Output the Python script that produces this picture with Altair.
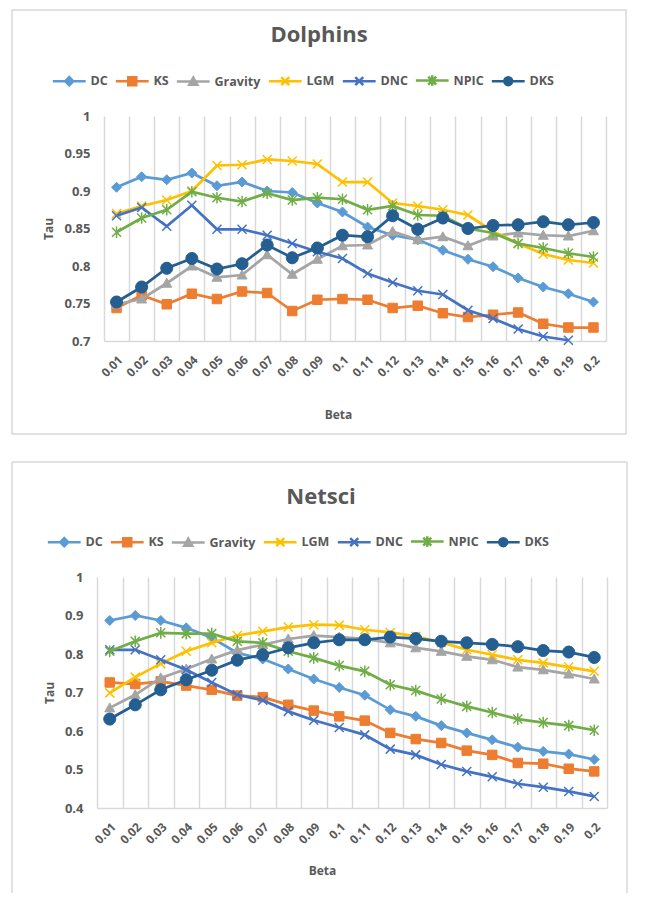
import altair as alt
import pandas as pd

BETA = ["0.01", "0.02", "0.03", "0.04", "0.05", "0.06", "0.07", "0.08", "0.09", "0.1",
        "0.11", "0.12", "0.13", "0.14", "0.15", "0.16", "0.17", "0.18", "0.19", "0.2"]
SERIES = ["DC", "KS", "Gravity", "LGM", "DNC", "NPIC", "DKS"]
COLORS = ["#5B9BD5", "#ED7D31", "#A5A5A5", "#FFC000", "#4472C4", "#70AD47", "#255E91"]

# Dolphins
dol_DC = [0.905, 0.919, 0.915, 0.924, 0.907, 0.912, 0.900, 0.898, 0.884, 0.872,
          0.852, 0.841, 0.835, 0.821, 0.809, 0.799, 0.784, 0.772, 0.763, 0.752]
dol_KS = [0.744, 0.761, 0.749, 0.763, 0.756, 0.766, 0.764, 0.740, 0.755, 0.756,
          0.755, 0.744, 0.747, 0.737, 0.732, 0.735, 0.738, 0.723, 0.718, 0.718]
dol_Gravity = [0.749, 0.756, 0.777, 0.800, 0.785, 0.788, 0.815, 0.789, 0.809, 0.827,
               0.828, 0.846, 0.835, 0.839, 0.827, 0.840, 0.844, 0.841, 0.840, 0.847]
dol_LGM = [0.870, 0.880, 0.888, 0.900, 0.934, 0.935, 0.942, 0.940, 0.936, 0.912,
           0.912, 0.884, 0.880, 0.875, 0.868, 0.846, 0.830, 0.816, 0.808, 0.804]
dol_DNC = [0.867, 0.878, 0.853, 0.881, 0.849, 0.849, 0.841, 0.830, 0.819, 0.810,
           0.790, 0.778, 0.767, 0.762, 0.741, 0.730, 0.716, 0.706, 0.701, None]
dol_NPIC = [0.845, 0.864, 0.875, 0.899, 0.891, 0.886, 0.897, 0.888, 0.891, 0.889,
            0.875, 0.880, 0.868, 0.867, 0.850, 0.844, 0.830, 0.824, 0.817, 0.812]
dol_DKS = [0.752, 0.772, 0.797, 0.810, 0.796, 0.803, 0.828, 0.811, 0.824, 0.841,
           0.839, 0.867, 0.849, 0.864, 0.850, 0.854, 0.855, 0.859, 0.855, 0.858]

# Netsci
net_DC = [0.887, 0.900, 0.887, 0.868, 0.842, 0.803, 0.787, 0.761, 0.735, 0.713,
          0.693, 0.655, 0.638, 0.614, 0.595, 0.577, 0.558, 0.547, 0.540, 0.526]
net_KS = [0.726, 0.722, 0.729, 0.718, 0.707, 0.692, 0.688, 0.668, 0.653, 0.638,
          0.627, 0.595, 0.579, 0.569, 0.549, 0.538, 0.517, 0.515, 0.502, 0.495]
net_Gravity = [0.660, 0.694, 0.738, 0.761, 0.787, 0.810, 0.824, 0.839, 0.848, 0.844,
               0.839, 0.829, 0.816, 0.807, 0.794, 0.785, 0.766, 0.759, 0.748, 0.735]
net_LGM = [0.699, 0.740, 0.775, 0.807, 0.829, 0.848, 0.859, 0.870, 0.876, 0.875,
           0.863, 0.856, 0.846, 0.830, 0.811, 0.798, 0.785, 0.777, 0.766, 0.755]
net_DNC = [0.811, 0.811, 0.785, 0.759, 0.726, 0.694, 0.680, 0.651, 0.628, 0.609,
           0.590, 0.553, 0.538, 0.513, 0.495, 0.481, 0.463, 0.454, 0.443, 0.430]
net_NPIC = [0.807, 0.833, 0.855, 0.853, 0.853, 0.833, 0.829, 0.807, 0.790, 0.770,
            0.755, 0.720, 0.705, 0.683, 0.664, 0.648, 0.631, 0.622, 0.614, 0.602]
net_DKS = [0.631, 0.668, 0.707, 0.733, 0.758, 0.784, 0.798, 0.816, 0.829, 0.837,
           0.837, 0.844, 0.840, 0.833, 0.829, 0.825, 0.819, 0.809, 0.805, 0.791]

DOL_TICKS = [0.7, 0.75, 0.8, 0.85, 0.9, 0.95, 1.0]
NET_TICKS = [0.4, 0.5, 0.6, 0.7, 0.8, 0.9, 1.0]

FONT = "Open Sans"
TXT = "#595959"
GRID = "#d9d9d9"

MARKERS = {
    "DC": "M0,-1L1,0L0,1L-1,0Z",
    "KS": "M-1,-1L1,-1L1,1L-1,1Z",
    "Gravity": "M0,-1L1,0.8L-1,0.8Z",
    "LGM": "M-1,-1L1,1M-1,1L1,-1",
    "DNC": "M-1,-1L1,1M-1,1L1,-1",
    "NPIC": "M-1,-1L1,1M-1,1L1,-1M0,-1.3L0,1.3",
    "DKS": "M-1,0A1,1,0,1,1,1,0A1,1,0,1,1,-1,0Z",
}
SIZES = {"DC": 100, "KS": 90, "Gravity": 100, "LGM": 81, "DNC": 81, "NPIC": 81, "DKS": 144}
STROKES = {"DC": 1, "KS": 1, "Gravity": 1, "LGM": 1.5, "DNC": 1.5, "NPIC": 1.5, "DKS": 1}

LINE = "M-4.1,0L4.1,0"
LEGEND_SHAPES = [LINE + MARKERS[s] for s in SERIES]


def panel(title, data, ticks, ymin, w, h, xrange, yoffset, box_layers, title_xy, legend_xy,
          xtitle_pad, xtitle_x):
    rows = []
    for s in SERIES:
        for b, v in zip(BETA, data[s]):
            rows.append({"beta": b, "series": s, "tau": v})
    df = pd.DataFrame(rows)

    x = alt.X("beta:O", sort=BETA,
              scale=alt.Scale(type="band", paddingInner=0, paddingOuter=0, range=xrange),
              axis=alt.Axis(title="Beta", titleFont=FONT, titleFontSize=12, titleFontWeight="bold",
                            titleColor=TXT, titlePadding=xtitle_pad, titleX=xtitle_x,
                            labelAngle=-45, labelFont=FONT, labelFontSize=12, labelFontWeight="bold",
                            labelColor=TXT, labelPadding=13, ticks=False,
                            domainColor=GRID, domainWidth=1.5, grid=True, gridColor=GRID,
                            gridWidth=1.5, tickBand="extent"))
    y = alt.Y("tau:Q", scale=alt.Scale(domain=[ymin, 1.0], nice=False, zero=False),
              axis=alt.Axis(values=ticks, format=".2~f", title="Tau", titleFont=FONT,
                            titleFontSize=12, titleFontWeight="bold", titleColor=TXT,
                            titlePadding=8, labelFont=FONT, labelFontSize=13,
                            labelFontWeight="bold", labelColor=TXT, labelPadding=14,
                            ticks=False, domain=False, grid=False, offset=yoffset))
    leg = alt.Legend(orient="none", legendX=legend_xy[0], legendY=legend_xy[1],
                     direction="horizontal", title=None, labelFont=FONT,
                     labelFontSize=12.5, labelFontWeight="bold", labelColor=TXT,
                     symbolSize=64, symbolStrokeWidth=2.5, symbolOpacity=1, labelOffset=15,
                     columnPadding=2, padding=0)

    base = alt.Chart(df)
    layers = list(box_layers)
    layers.append(
        alt.Chart(pd.DataFrame({"t": [title]})).mark_text(
            text=title, font=FONT, fontSize=22, fontWeight="bold", color=TXT,
            align="center", baseline="alphabetic"
        ).encode(x=alt.value(title_xy[0]), y=alt.value(title_xy[1]))
    )
    # invisible carrier layer that owns the legend
    layers.append(base.mark_point(filled=True, opacity=0, strokeWidth=2.5).encode(
        x=x, y=y,
        color=alt.Color("series:N", scale=alt.Scale(domain=SERIES, range=COLORS), legend=leg),
        stroke=alt.Stroke("series:N", scale=alt.Scale(domain=SERIES, range=COLORS), legend=leg),
        shape=alt.Shape("series:N", scale=alt.Scale(domain=SERIES, range=LEGEND_SHAPES), legend=leg),
    ))
    for i, s in enumerate(SERIES):
        sub = base.transform_filter(alt.datum.series == s)
        layers.append(sub.mark_line(strokeWidth=2.75, color=COLORS[i]).encode(x=x, y=y))
        layers.append(sub.mark_point(filled=True, opacity=1, shape=MARKERS[s], size=SIZES[s],
                                     fill=COLORS[i], stroke=COLORS[i], strokeWidth=STROKES[s])
                      .encode(x=x, y=y))
    return alt.layer(*layers).properties(width=w, height=h)


one = pd.DataFrame({"a": [0]})
top_box = [alt.Chart(one).mark_rect(fill="transparent", stroke=GRID, strokeWidth=1.5).encode(
    x=alt.value(-92), x2=alt.value(522), y=alt.value(-106), y2=alt.value(318))]
bot_box = [
    alt.Chart(one).mark_rule(stroke=GRID, strokeWidth=1.5).encode(
        x=alt.value(-92), y=alt.value(-115), y2=alt.value(316)),
    alt.Chart(one).mark_rule(stroke=GRID, strokeWidth=1.5).encode(
        x=alt.value(523), y=alt.value(-115), y2=alt.value(316)),
    alt.Chart(one).mark_rule(stroke=GRID, strokeWidth=1.5).encode(
        x=alt.value(-92), x2=alt.value(523), y=alt.value(-115)),
]

dol = dict(zip(SERIES, [dol_DC, dol_KS, dol_Gravity, dol_LGM, dol_DNC, dol_NPIC, dol_DKS]))
net = dict(zip(SERIES, [net_DC, net_KS, net_Gravity, net_LGM, net_DNC, net_NPIC, net_DKS]))

c1 = panel("Dolphins", dol, DOL_TICKS, 0.7, 502, 225, [0, 502], 0, top_box,
           (215, -74), (-41, -42), 31, 234)
c2 = panel("Netsci", net, NET_TICKS, 0.4, 503, 231, [-7, 503], 7, bot_box,
           (217, -73), (-46, -42), 20, 218)

chart = alt.vconcat(c1, c2, spacing=24).resolve_legend(
    color="independent", stroke="independent", shape="independent"
).resolve_scale(color="independent", stroke="independent", shape="independent").properties(
    padding={"left": 2, "top": 0, "right": 0, "bottom": 0}
).configure_view(stroke="transparent")

chart.save("out.html", embed_options={"renderer": "svg", "actions": False})
